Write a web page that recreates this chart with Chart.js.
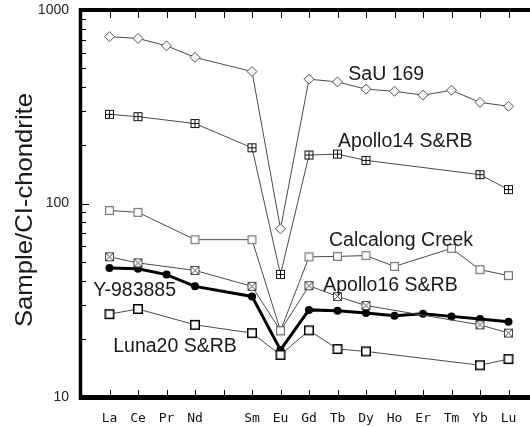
<!DOCTYPE html>
<html>
<head>
<meta charset="utf-8">
<script src="https://cdn.jsdelivr.net/npm/chart.js@4"></script>
<style>
html,body{margin:0;padding:0;background:#fff;overflow:hidden;width:530px;height:427px;}
canvas{display:block;}
</style>
</head>
<body>
<canvas id="c" width="545" height="427"></canvas>
<script>
// ---- data ----
const categories = ['La','Ce','Pr','Nd','','Sm','Eu','Gd','Tb','Dy','Ho','Er','Tm','Yb','Lu'];
const sau169    = [728, 713, 653, 569, null, 481, 74, 439, 425, 390, 380, 363, 385, 333, 318];
const apollo14  = [289, 281, null, 259, null, 194, 43, 178, 180, 167, null, null, null, 141, 118];
const calcalong = [92, 90, null, 65, null, 65, 22, 53, 53.3, 53.8, 47.3, null, 58.6, 45.5, 42.4];
const apollo16  = [53, 49.3, null, 45.1, null, 37.3, 22.0, 37.6, 33.1, 29.7, null, null, null, 23.6, 21.4];
const y983885   = [46.4, 46.0, 42.9, 37.3, null, 33.1, 17.5, 28.2, 27.9, 27.2, 26.3, 26.9, 26.1, 25.3, 24.5];
const luna20    = [26.8, 28.5, null, 23.6, null, 21.4, 16.5, 22.1, 17.7, 17.2, null, null, null, 14.6, 15.7];
const yTickValues = [10, 100, 1000];
const yTitle = 'Sample/CI-chondrite';
// labels: text, x (category index), y (value)
const labelTexts = ['SaU 169', 'Apollo14 S&RB', 'Calcalong Creek', 'Apollo16 S&RB', 'Y-983885', 'Luna20 S&RB'];
const labelX = [8.38, 8.02, 7.70, 7.50, -0.57, 0.13];
const labelY = [466, 208, 64, 37.8, 35.6, 18.3];

// ---- markers ----
function marker(kind, size, color, lw) {
  const c = document.createElement('canvas');
  c.width = size + 2; c.height = size + 2;
  const g = c.getContext('2d');
  g.strokeStyle = color; g.lineWidth = lw; g.fillStyle = '#fff';
  const o = 1 + lw / 2, s = size - lw;
  g.fillRect(o, o, s, s);
  g.strokeRect(o, o, s, s);
  const m = (size + 2) / 2;
  g.beginPath();
  if (kind === 'plus') {
    g.moveTo(m, o); g.lineTo(m, o + s);
    g.moveTo(o, m); g.lineTo(o + s, m);
  } else if (kind === 'x') {
    g.moveTo(o, o); g.lineTo(o + s, o + s);
    g.moveTo(o + s, o); g.lineTo(o, o + s);
  }
  g.stroke();
  return c;
}
const mPlus = marker('plus', 9, '#111', 1);
const mX = marker('x', 9, '#444', 1);
const mGrey = marker('none', 9, '#777', 1.2);
const mBlack = marker('none', 10, '#000', 1.5);

const pts = arr => arr.map((v, i) => v == null ? null : {x: i, y: v}).filter(Boolean);

const thin = {borderColor: '#4a4a4a', borderWidth: 1, showLine: true, spanGaps: true};
const datasets = [
  Object.assign({label: 'SaU 169', data: pts(sau169), pointStyle: 'rectRot', pointRadius: 5,
    pointBorderColor: '#555', pointBackgroundColor: '#f6f6f6', pointBorderWidth: 1}, thin),
  Object.assign({label: 'Apollo14 S&RB', data: pts(apollo14), pointStyle: mPlus}, thin),
  Object.assign({label: 'Calcalong Creek', data: pts(calcalong), pointStyle: mGrey}, thin),
  Object.assign({label: 'Apollo16 S&RB', data: pts(apollo16), pointStyle: mX}, thin),
  Object.assign({label: 'Luna20 S&RB', data: pts(luna20), pointStyle: mBlack}, thin),
  {label: 'Y-983885', data: pts(y983885), showLine: true, borderColor: '#000', borderWidth: 3,
    pointStyle: 'circle', pointRadius: 4, pointBackgroundColor: '#000', pointBorderColor: '#000', pointBorderWidth: 0}
];

const decorPlugin = {
  id: 'decor',
  afterDatasetsDraw(chart) {
    const {ctx, chartArea: a, scales} = chart;
    const xs = scales.x, ys = scales.y;
    ctx.save();
    ctx.strokeStyle = '#000';
    // category ticks (inner), top and bottom
    ctx.lineWidth = 1;
    ctx.beginPath();
    for (let i = 0; i < categories.length; i++) {
      const px = Math.round(xs.getPixelForValue(i)) + 0.5;
      ctx.moveTo(px, a.bottom - 2); ctx.lineTo(px, a.bottom - 7);
      ctx.moveTo(px, a.top + 2); ctx.lineTo(px, a.top + 8);
    }
    // log ticks on left
    for (let d = 10; d < 1000; d *= 10) {
      for (let k = 1; k <= 9; k++) {
        const v = d * k;
        if (v <= 10) continue;
        const py = Math.round(ys.getPixelForValue(v)) + 0.5;
        const len = (k === 1) ? 7 : 4;
        ctx.moveTo(a.left + 1, py); ctx.lineTo(a.left + 1 + len, py);
      }
    }
    ctx.stroke();
    // frame
    ctx.lineCap = 'butt';
    ctx.lineWidth = 4;
    ctx.beginPath(); ctx.moveTo(a.left - 2, a.top); ctx.lineTo(chart.width, a.top); ctx.stroke();
    ctx.lineWidth = 5;
    ctx.beginPath(); ctx.moveTo(a.left - 2, a.bottom + 0.5); ctx.lineTo(chart.width, a.bottom + 0.5); ctx.stroke();
    ctx.lineWidth = 3.5;
    ctx.beginPath(); ctx.moveTo(a.left - 0.5, a.top - 2); ctx.lineTo(a.left - 0.5, a.bottom + 3); ctx.stroke();
    // series labels
    ctx.fillStyle = '#1a1a1a';
    ctx.font = '19.5px "Liberation Sans", Arial, sans-serif';
    ctx.textAlign = 'left';
    ctx.textBaseline = 'middle';
    labelTexts.forEach((t, i) => {
      ctx.fillText(t, xs.getPixelForValue(labelX[i]), ys.getPixelForValue(labelY[i]));
    });
    // y title
    ctx.translate(32, 210);
    ctx.rotate(-Math.PI / 2);
    ctx.scale(1.07, 1);
    ctx.textAlign = 'center';
    ctx.textBaseline = 'alphabetic';
    ctx.font = '24px "Liberation Sans", Arial, sans-serif';
    ctx.fillText(yTitle, 0, 0);
    ctx.restore();
  }
};

function noPad(s) { s.paddingTop = 0; s.paddingBottom = 0; s.paddingLeft = 0; s.paddingRight = 0; }

new Chart(document.getElementById('c'), {
  type: 'scatter',
  data: {datasets},
  options: {
    responsive: false,
    animation: false,
    devicePixelRatio: 1,
    layout: {padding: {top: 10, right: 8, left: 0, bottom: 0}},
    plugins: {legend: {display: false}, tooltip: {enabled: false}},
    scales: {
      x: {
        type: 'linear', min: -1, max: 15,
        grid: {display: false, drawTicks: false},
        border: {display: false},
        afterBuildTicks: s => { s.ticks = categories.map((c, i) => ({value: i})); },
        afterFit: s => { s.height = 30; noPad(s); },
        ticks: {
          autoSkip: false, maxRotation: 0, padding: 14, color: '#111',
          font: {family: '"DejaVu Sans Mono", monospace', size: 13},
          callback: v => categories[v]
        }
      },
      y: {
        type: 'logarithmic', min: 10, max: 1000,
        grid: {display: false, drawTicks: false},
        border: {display: false},
        afterBuildTicks: s => { s.ticks = yTickValues.map(v => ({value: v})); },
        afterFit: s => { s.width = 81; noPad(s); },
        ticks: {
          padding: 12, color: '#222',
          font: {family: '"Liberation Sans", Arial, sans-serif', size: 14},
          callback: v => String(v)
        }
      }
    }
  },
  plugins: [decorPlugin]
});
</script>
</body>
</html>
